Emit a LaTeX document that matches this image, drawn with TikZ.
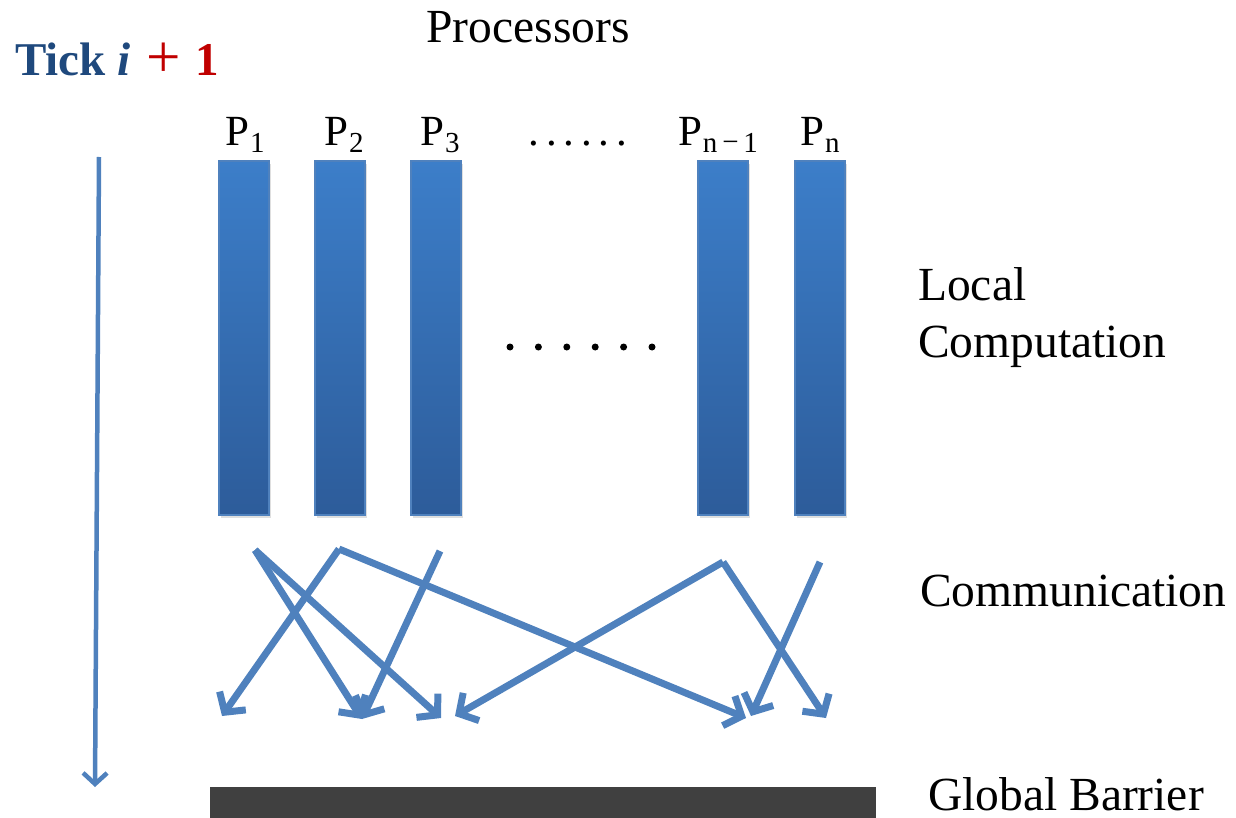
\documentclass[tikz,border=0pt]{standalone}
\usepackage{fontspec}
\setmainfont{Liberation Serif}
\usetikzlibrary{arrows.meta,shadows}

\definecolor{msgblue}{RGB}{79,129,189}
\definecolor{bartop}{RGB}{60,126,201}
\definecolor{barbot}{RGB}{45,92,154}
\definecolor{tickblue}{RGB}{31,73,125}
\definecolor{tickred}{RGB}{192,0,0}
\definecolor{barrier}{RGB}{64,64,64}

\tikzset{
  procbar/.style={rectangle, draw=msgblue, line width=1.5pt,
    top color=bartop, bottom color=barbot,
    minimum width=50pt, minimum height=354pt, inner sep=0pt,
    drop shadow={shadow xshift=2pt, shadow yshift=-3pt, opacity=0.25}},
  plabel/.style={anchor=base, inner sep=0pt, font=\fontsize{43}{50}\selectfont},
  sidelabel/.style={anchor=base west, inner sep=0pt, align=left,
    font=\fontsize{47.5}{57}\selectfont},
  msg/.style={draw=msgblue, line width=7pt,
    -{Straight Barb[length=14pt,width=32pt]}},
  timeline/.style={draw=msgblue, line width=4.5pt,
    -{Straight Barb[length=11pt,width=24pt]}},
  bigdot/.style={circle, fill=black, inner sep=0pt, minimum size=7pt}
}

\newcommand{\psub}[1]{P\kern1pt\raisebox{-7pt}{\fontsize{29}{29}\selectfont #1}}

\begin{document}
\begin{tikzpicture}[x=1pt, y=-1pt]
  \useasboundingbox (0,0) rectangle (1236,818);

  % title and tick label
  \node[anchor=base, inner sep=0pt, font=\fontsize{47.5}{57}\selectfont] (title) at (528,43) {Processors};
  \node[anchor=base west, inner sep=0pt, font=\fontsize{47}{54}\selectfont\bfseries] (tick) at (15,76)
    {\textcolor{tickblue}{Tick \textit{i}}\hspace{16pt}\textcolor{tickred}{\raisebox{-2pt}{\scalebox{1.3}{\mdseries+}}\hspace{14pt}1}};

  % processor labels
  \node[plabel] (l1) at (245,146) {\psub{1}};
  \node[plabel] (l2) at (344,146) {\psub{2}};
  \node[plabel] (l3) at (440,146) {\psub{3}};
  \node[plabel] (ldots) at (578,146) {.\kern6.8pt.\kern6.8pt.\kern6.8pt.\kern6.8pt.\kern6.8pt.};
  \node[plabel] (lnm1) at (718,146) {\psub{n\,\raisebox{1pt}{\textminus}\,1}};
  \node[plabel] (ln) at (820,146) {\psub{n}};

  % processor bars
  \node[procbar] (p1) at (244,338) {};
  \node[procbar] (p2) at (340,338) {};
  \node[procbar] (p3) at (436,338) {};
  \node[procbar] (pnm1) at (723,338) {};
  \node[procbar] (pn) at (820,338) {};

  % elided processors
  \foreach \i in {0,...,5}
    \node[bigdot] (d\i) at (510+28.4*\i,347) {};

  % phase labels
  \node[sidelabel] (local) at (918,357) {Local\\Computation};
  \node[sidelabel] (comm) at (920,606) {Communication};
  \node[sidelabel] (glob) at (928,810) {Global Barrier};

  % global barrier
  \node[rectangle, fill=barrier, anchor=north west, inner sep=0pt,
        minimum width=666pt, minimum height=40pt] (bar) at (210,787) {};

  % time axis
  \coordinate (tA) at (99,157);
  \coordinate (tB) at (95,787);
  \draw[timeline] (tA) -- (tB);

  % message sources and destinations
  \coordinate (s1) at (255,550);
  \coordinate (s2) at (339,549);
  \coordinate (s3) at (440,551);
  \coordinate (s4) at (723,562);
  \coordinate (s5) at (820,562);
  \coordinate (t1) at (222,716);
  \coordinate (t2) at (362,719);
  \coordinate (t3) at (441,718);
  \coordinate (t4) at (455,716);
  \coordinate (t5) at (746,718);
  \coordinate (t6) at (751,716);
  \coordinate (t7) at (826,718);

  \draw[msg] (s1) -- (t2);
  \draw[msg] (s1) -- (t3);
  \draw[msg] (s2) -- (t1);
  \draw[msg] (s2) -- (t5);
  \draw[msg] (s3) -- (t2);
  \draw[msg] (s4) -- (t4);
  \draw[msg] (s4) -- (t7);
  \draw[msg] (s5) -- (t6);
\end{tikzpicture}
\end{document}
